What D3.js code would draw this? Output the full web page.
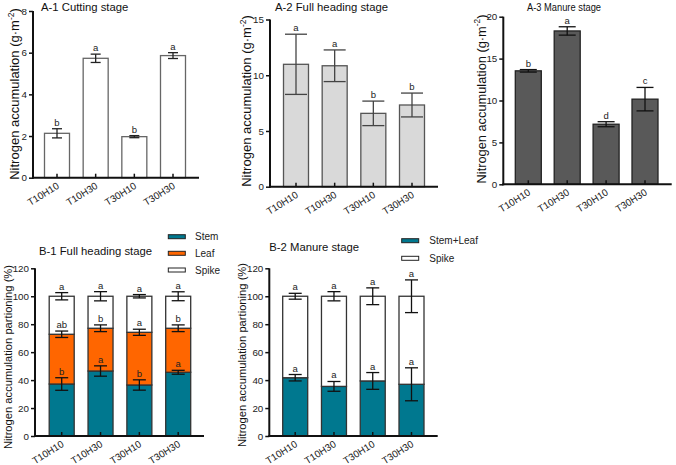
<!DOCTYPE html>
<html><head><meta charset="utf-8">
<script src="https://cdn.jsdelivr.net/npm/d3@7"></script>
<style>
body{margin:0;background:#fff;}
svg{display:block;font-family:Arial,"Liberation Sans",sans-serif;}
</style></head>
<body><svg id="c" width="676" height="465"></svg>
<script>
// ---------- data ----------
const categories = ["T10H10","T10H30","T30H10","T30H30"];

const a1Values = [2.13, 5.73, 1.97, 5.86];
const a1Errors = [0.22, 0.20, 0.05, 0.14];
const a1Letters = ["b","a","b","a"];
const a1Ticks = [0,2,4,6,8];

const a2Values = [10.98, 10.85, 6.58, 7.33];
const a2Errors = [2.70, 1.42, 1.10, 1.07];
const a2Letters = ["a","a","b","b"];
const a2Ticks = [0,5,10,15];

const a3Values = [13.54, 18.30, 7.17, 10.16];
const a3Errors = [0.15, 0.50, 0.30, 1.40];
const a3Letters = ["b","a","d","c"];
const a3Ticks = [0,5,10,15,20];

const b1Stem = [37.2, 46.5, 36.5, 45.6];
const b1StemErr = [4.5, 3.7, 3.7, 1.4];
const b1StemLetters = ["b","a","b","a"];
const b1Leaf = [35.6, 30.6, 37.7, 31.5];
const b1LeafErr = [2.3, 2.4, 2.2, 2.4];
const b1LeafLetters = ["ab","b","a","b"];
const b1Spike = [27.2, 22.9, 25.8, 22.9];
const b1SpikeErr = [2.6, 3.3, 1.2, 3.2];
const b1SpikeLetters = ["a","a","a","a"];

const b2StemLeaf = [41.7, 35.5, 39.4, 37.0];
const b2StemLeafErr = [2.3, 3.5, 6.0, 11.8];
const b2StemLeafLetters = ["a","a","a","a"];
const b2Spike = [58.3, 64.5, 60.6, 63.0];
const b2SpikeErr = [2.1, 3.3, 6.0, 11.7];
const b2SpikeLetters = ["a","a","a","a"];
const bTicks = [0,20,40,60,80,100,120];

const yLabelA = "Nitrogen accumulation";
const yLabelB = "Nitrogen accumulation partioning (%)";

// ---------- drawing ----------
const svg = d3.select("#c");
svg.append("rect").attr("width",676).attr("height",465).attr("fill","#fff");

function panel(opt){
  const g = svg.append("g");
  const y = d3.scaleLinear().domain(opt.domain).range([opt.y0, opt.y1]);
  const x = d3.scalePoint().domain(categories).range([opt.c0, opt.c1]);
  const bw = opt.bw;
  opt.series.forEach((s,si)=>{
    categories.forEach((c,i)=>{
      const base = opt.series.slice(0,si).reduce((a,t)=>a+t.values[i],0);
      const top = base + s.values[i];
      g.append("rect").attr("x",x(c)-bw/2).attr("width",bw)
        .attr("y",y(top)).attr("height",y(base)-y(top))
        .attr("fill",s.fill).attr("stroke",opt.barStroke).attr("stroke-width",1.3);
    });
  });
  opt.series.forEach((s,si)=>{
    categories.forEach((c,i)=>{
      const top = opt.series.slice(0,si+1).reduce((a,t)=>a+t.values[i],0);
      const e = s.errors[i];
      const cx = x(c), cw = opt.cap/2;
      g.append("line").attr("x1",cx).attr("x2",cx).attr("y1",y(top+e)).attr("y2",y(top-e))
        .attr("stroke",opt.errStroke).attr("stroke-width",1.3);
      [top+e, top-e].forEach(v=>g.append("line").attr("x1",cx-cw).attr("x2",cx+cw)
        .attr("y1",y(v)).attr("y2",y(v)).attr("stroke",opt.errStroke).attr("stroke-width",1.3));
      g.append("text").attr("x",cx).attr("y",y(top+e)-3).attr("text-anchor","middle")
        .attr("font-size",9.5).attr("fill","#222").text(s.letters[i]);
    });
  });
  categories.forEach(c=>{
    g.append("line").attr("x1",x(c)).attr("x2",x(c)).attr("y1",opt.y0).attr("y2",opt.y0-4)
      .attr("stroke","#111").attr("stroke-width",1.5);
    g.append("text").attr("transform",`translate(${x(c)+1},${opt.y0+7}) rotate(-32)`)
      .attr("text-anchor","end").attr("dy","0.35em").attr("font-size",9.8).attr("fill","#222").text(c);
  });
  const ya = d3.axisLeft(y).tickValues(opt.ticks).tickSize(4).tickPadding(2).tickFormat(d3.format("d"));
  const ag = g.append("g").attr("transform",`translate(${opt.ax0},0)`).call(ya);
  ag.select(".domain").remove();
  ag.selectAll("line").attr("stroke","#111").attr("stroke-width",1.5);
  ag.selectAll("text").attr("font-size",9.8).attr("fill","#222").attr("font-family","Arial,'Liberation Sans',sans-serif");
  g.append("line").attr("x1",opt.ax0).attr("x2",opt.ax0).attr("y1",opt.y0+1).attr("y2",opt.y1)
    .attr("stroke","#111").attr("stroke-width",2);
  g.append("line").attr("x1",opt.ax0-1).attr("x2",opt.ax1).attr("y1",opt.y0).attr("y2",opt.y0)
    .attr("stroke","#111").attr("stroke-width",2);
  const t = g.append("text").attr("x",opt.tx).attr("y",opt.ty).attr("font-size",opt.tfs||11.3).attr("fill","#111").text(opt.title);
  if(opt.tlen) t.attr("textLength",opt.tlen).attr("lengthAdjust","spacingAndGlyphs");
  const yl = g.append("text").attr("transform",`translate(${opt.lx},${opt.ly}) rotate(-90)`)
    .attr("text-anchor","middle").attr("font-size",opt.lfs).attr("fill","#111");
  if(opt.unit){
    yl.append("tspan").text(yLabelA+" (g·m");
    yl.append("tspan").attr("dy",-opt.lfs*0.4).attr("font-size",opt.lfs*0.65).text("-2");
    yl.append("tspan").attr("dy",opt.lfs*0.4).text(")");
  } else yl.text(yLabelB);
  return g;
}

panel({domain:[0,8],ticks:a1Ticks,y0:177.7,y1:11,c0:57,c1:173,bw:25,ax0:33,ax1:199,cap:10,
  barStroke:"#666",errStroke:"#222",title:"A-1 Cutting stage",tx:41,ty:11,lx:19,ly:94,lfs:13,unit:true,
  series:[{values:a1Values,errors:a1Errors,letters:a1Letters,fill:"#fff"}]});
panel({domain:[0,15],ticks:a2Ticks,y0:186.7,y1:19.5,c0:296,c1:412,bw:25,ax0:270,ax1:438,cap:22,
  barStroke:"#555",errStroke:"#444",title:"A-2 Full heading stage",tx:275,ty:11,lx:251,ly:101,lfs:13,unit:true,
  series:[{values:a2Values,errors:a2Errors,letters:a2Letters,fill:"#d9d9d9"}]});
panel({domain:[0,20],ticks:a3Ticks,y0:184.3,y1:16.7,c0:528.3,c1:645,bw:26,ax0:503.3,ax1:671.7,cap:17,
  barStroke:"#222",errStroke:"#111",title:"A-3 Manure stage",tx:527,ty:11,tfs:10.5,tlen:74,lx:485.5,ly:99,lfs:12.8,unit:true,
  series:[{values:a3Values,errors:a3Errors,letters:a3Letters,fill:"#595959"}]});
panel({domain:[0,120],ticks:bTicks,y0:436,y1:268.3,c0:61.7,c1:178.2,bw:25,ax0:35,ax1:204,cap:13,
  barStroke:"#333",errStroke:"#111",title:"B-1 Full heading stage",tx:39,ty:255,lx:11.5,ly:357,lfs:11.2,unit:false,
  series:[{values:b1Stem,errors:b1StemErr,letters:b1StemLetters,fill:"#00788f"},
          {values:b1Leaf,errors:b1LeafErr,letters:b1LeafLetters,fill:"#ff6600"},
          {values:b1Spike,errors:b1SpikeErr,letters:b1SpikeLetters,fill:"#fff"}]});
panel({domain:[0,120],ticks:bTicks,y0:436,y1:268.3,c0:295.2,c1:411.5,bw:25,ax0:269.3,ax1:437.7,cap:13,
  barStroke:"#333",errStroke:"#111",title:"B-2 Manure stage",tx:269.3,ty:251,lx:245.5,ly:355,lfs:11.2,unit:false,
  series:[{values:b2StemLeaf,errors:b2StemLeafErr,letters:b2StemLeafLetters,fill:"#00788f"},
          {values:b2Spike,errors:b2SpikeErr,letters:b2SpikeLetters,fill:"#fff"}]});

function legend(x0, tx, ys, names, fills){
  names.forEach((n,i)=>{
    svg.append("rect").attr("x",x0).attr("y",ys[i]-2).attr("width",17).attr("height",4)
      .attr("fill",fills[i]).attr("stroke","#222").attr("stroke-width",1);
    svg.append("text").attr("x",tx).attr("y",ys[i]).attr("dy","0.35em").attr("font-size",10)
      .attr("fill","#222").text(n);
  });
}
legend(168.3,195,[236.7,253.3,270],["Stem","Leaf","Spike"],["#00788f","#ff6600","#fff"]);
legend(401.7,429.3,[240.7,258.3],["Stem+Leaf","Spike"],["#00788f","#fff"]);
</script></body></html>
